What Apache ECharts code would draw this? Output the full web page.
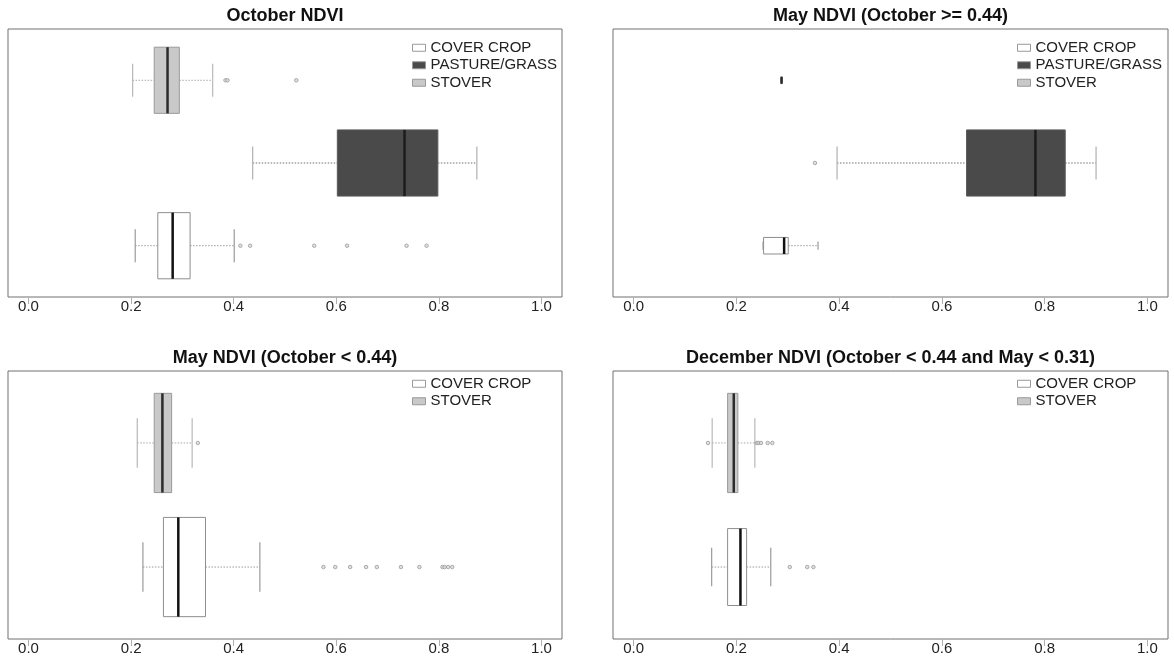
<!DOCTYPE html>
<html>
<head>
<meta charset="utf-8">
<script src="https://cdn.jsdelivr.net/npm/echarts@6/dist/echarts.min.js"></script>
<style>
html,body{margin:0;padding:0;background:#fff;}
#c{width:1174px;height:656px;}
</style>
</head>
<body>
<div id="c"></div>
<script>
// ---------- DATA ----------
const xTicks = [0, 0.2, 0.4, 0.6, 0.8, 1.0];
const titles = ['October NDVI', 'May NDVI (October >= 0.44)', 'May NDVI (October < 0.44)', 'December NDVI (October < 0.44 and May < 0.31)'];
const groups3 = ['COVER CROP', 'PASTURE/GRASS', 'STOVER'];
const groups2 = ['COVER CROP', 'STOVER'];

// box statistics: [lower whisker, Q1, median, Q3, upper whisker]
const octStats = [
  [0.208, 0.252, 0.281, 0.315, 0.401],
  [0.437, 0.602, 0.733, 0.798, 0.874],
  [0.203, 0.245, 0.271, 0.294, 0.359]
];
const octOutliers = [
  [0.413, 0.432, 0.557, 0.621, 0.737, 0.776],
  [],
  [0.384, 0.388, 0.522]
];
const octWidths = [0.8, 0.8, 0.8];

const mayHighStats = [
  [0.252, 0.253, 0.293, 0.301, 0.359],
  [0.396, 0.648, 0.782, 0.840, 0.900],
  [0.287, 0.287, 0.288, 0.289, 0.289]
];
const mayHighOutliers = [[], [0.353], []];
const mayHighWidths = [0.2, 0.8, 0.085];

const mayLowStats = [
  [0.223, 0.263, 0.292, 0.345, 0.451],
  [0.212, 0.245, 0.261, 0.279, 0.319]
];
const mayLowOutliers = [
  [0.575, 0.598, 0.627, 0.658, 0.679, 0.726, 0.762, 0.807, 0.811, 0.818, 0.826],
  [0.330]
];
const mayLowWidths = [0.8, 0.8];

const decStats = [
  [0.152, 0.183, 0.208, 0.220, 0.267],
  [0.153, 0.183, 0.195, 0.203, 0.236]
];
const decOutliers = [
  [0.304, 0.338, 0.350],
  [0.145, 0.240, 0.243, 0.248, 0.261, 0.270]
];
const decWidths = [0.62, 0.8];

// ---------- STYLE ----------
const FONT = '"Liberation Sans", Arial, sans-serif';
const styles = {
  'COVER CROP':    {fill: '#ffffff', border: '#8e8e8e', median: '#111111', whisker: '#9a9a9a', cap: '#9a9a9a'},
  'PASTURE/GRASS': {fill: '#4a4a4a', border: '#5a5a5a', median: '#1c1c1c', whisker: '#707070', cap: '#b0b0b0'},
  'STOVER':        {fill: '#c9c9c9', border: '#9a9a9a', median: '#2c2c2c', whisker: '#a8a8a8', cap: '#b8b8b8'}
};

const panels = [
  {groups: groups3, stats: octStats, outliers: octOutliers, widths: octWidths, grid: {left: 8, top: 29, width: 554, height: 268}, yr: [0.38, 3.62], legend: [412, 40]},
  {groups: groups3, stats: mayHighStats, outliers: mayHighOutliers, widths: mayHighWidths, grid: {left: 613, top: 29, width: 555, height: 268}, yr: [0.38, 3.62], legend: [1017, 40]},
  {groups: groups2, stats: mayLowStats, outliers: mayLowOutliers, widths: mayLowWidths, grid: {left: 8, top: 371, width: 554, height: 268}, yr: [0.42, 2.58], legend: [412, 376]},
  {groups: groups2, stats: decStats, outliers: decOutliers, widths: decWidths, grid: {left: 613, top: 371, width: 555, height: 268}, yr: [0.42, 2.58], legend: [1017, 376]}
];

const grid = [], xAxis = [], yAxis = [], series = [], title = [], legend = [];

panels.forEach((p, pi) => {
  grid.push(Object.assign({show: true, borderColor: '#707070', borderWidth: 1, backgroundColor: 'transparent'}, p.grid));
  xAxis.push({
    type: 'value', gridIndex: pi, min: -0.04, max: 1.04,
    axisLine: {show: false}, splitLine: {show: false},
    axisTick: {show: true, length: 7, lineStyle: {color: '#b0b0b0'}, customValues: xTicks},
    axisLabel: {customValues: xTicks, margin: 2, fontSize: 15, color: '#222', fontFamily: FONT,
      formatter: v => v.toFixed(1)}
  });
  yAxis.push({type: 'value', gridIndex: pi, min: p.yr[0], max: p.yr[1], show: false});
  title.push({
    text: titles[pi], left: p.grid.left + p.grid.width / 2, textAlign: 'center',
    top: p.grid.top - 22, padding: 0,
    textStyle: {fontSize: 18, fontWeight: 'bold', color: '#111', fontFamily: FONT}
  });
  legend.push({
    left: p.legend[0], top: p.legend[1], orient: 'vertical', padding: 0,
    itemWidth: 13, itemHeight: 7, itemGap: 2, selectedMode: false,
    textStyle: {fontSize: 15, color: '#222', fontFamily: FONT, lineHeight: 15.5},
    data: p.groups.map(g => ({name: g, icon: 'rect', itemStyle: {color: styles[g].fill, borderColor: '#999', borderWidth: 1}}))
  });

  p.groups.forEach((g, gi) => {
    const st = styles[g];
    const w = p.widths[gi];
    series.push({
      type: 'custom', name: g, xAxisIndex: pi, yAxisIndex: pi,
      itemStyle: {color: st.fill},
      data: [[gi + 1].concat(p.stats[gi])],
      encode: {x: [1, 2, 3, 4, 5], y: 0},
      renderItem: function (params, api) {
        const pos = api.value(0);
        const mn = api.value(1), q1 = api.value(2), md = api.value(3), q3 = api.value(4), mx = api.value(5);
        const X = v => api.coord([v, pos])[0];
        const yc = api.coord([md, pos])[1];
        const half = api.size([0, w])[1] / 2;
        const cap = half / 2;
        const children = [];
        if (X(q1) - X(mn) > 0.5) children.push({type: 'line', shape: {x1: X(mn), y1: yc, x2: X(q1), y2: yc}, style: {stroke: st.whisker, lineWidth: 1, lineDash: [1.5, 1.5]}});
        if (X(mx) - X(q3) > 0.5) children.push({type: 'line', shape: {x1: X(q3), y1: yc, x2: X(mx), y2: yc}, style: {stroke: st.whisker, lineWidth: 1, lineDash: [1.5, 1.5]}});
        children.push({type: 'line', shape: {x1: X(mn), y1: yc - cap, x2: X(mn), y2: yc + cap}, style: {stroke: st.cap, lineWidth: 1.2}});
        children.push({type: 'line', shape: {x1: X(mx), y1: yc - cap, x2: X(mx), y2: yc + cap}, style: {stroke: st.cap, lineWidth: 1.2}});
        children.push({type: 'rect', shape: {x: X(q1), y: yc - half, width: Math.max(X(q3) - X(q1), 0.5), height: 2 * half}, style: {fill: st.fill, stroke: st.border, lineWidth: 1}});
        children.push({type: 'line', shape: {x1: X(md), y1: yc - half, x2: X(md), y2: yc + half}, style: {stroke: st.median, lineWidth: 2.5}});
        return {type: 'group', children: children};
      },
      z: 2
    });
    if (p.outliers[gi].length) {
      series.push({
        type: 'scatter', name: g, xAxisIndex: pi, yAxisIndex: pi,
        data: p.outliers[gi].map(v => [v, gi + 1]),
        symbol: 'circle', symbolSize: 3.5,
        itemStyle: {color: '#dadada', borderColor: '#9a9a9a', borderWidth: 1},
        z: 3
      });
    }
  });
});

const chart = echarts.init(document.getElementById('c'), null, {renderer: 'canvas'});
chart.setOption({animation: false, backgroundColor: '#fff', title, legend, grid, xAxis, yAxis, series});
</script>
</body>
</html>
